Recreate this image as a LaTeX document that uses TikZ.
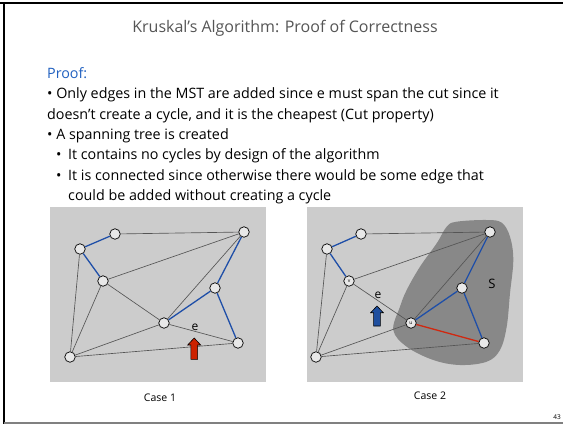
\documentclass[tikz,border=0pt]{standalone}
\usepackage{fontspec}
\setmainfont{Open Sans}
\definecolor{panelgray}{HTML}{CCCCCC}
\definecolor{blobgray}{HTML}{888888}
\definecolor{edgegray}{HTML}{555555}
\definecolor{treeblue}{HTML}{1F4FA8}
\definecolor{cutred}{HTML}{D02810}
\definecolor{arrowred}{HTML}{CC2200}
\definecolor{arrowblue}{HTML}{1F4F9F}
\definecolor{titlegray}{HTML}{555555}
\definecolor{proofblue}{HTML}{2060C0}
\definecolor{vertexfill}{HTML}{E8E8E8}
\begin{document}
\begin{tikzpicture}[x=1pt,y=-1pt,
  vertex/.style={circle,draw=black,line width=0.7pt,fill=vertexfill,minimum size=10.5pt,inner sep=0pt,font=\fontsize{5}{5}\selectfont},
  plain/.style={draw=edgegray,line width=0.65pt},
  tree/.style={draw=treeblue,line width=1.3pt},
  cheap/.style={draw=cutred,line width=1.3pt},
  bodytext/.style={anchor=base west,inner sep=0pt,font=\fontsize{14.3}{16}\selectfont},
  caselabel/.style={inner sep=0pt,font=\fontsize{10.5}{11}\selectfont},
  elabel/.style={inner sep=0pt,font=\fontsize{12}{13}\selectfont}]
\useasboundingbox (0,0) rectangle (563,424);
\fill[white] (0,0) rectangle (563,424);
% slide frame
\draw[black,line width=2pt] (0,2.7) -- (563,2.7);
\draw[black,line width=2.4pt] (4,2) -- (4,424);
\draw[gray,line width=1.2pt] (4,423) -- (563,423);

% title and text
\node[font=\fontsize{16}{18}\selectfont,text=titlegray,inner sep=0pt] (title) at (285,28) {Kruskal’s Algorithm: Proof of Correctness};
\node[bodytext,text=proofblue] (proof) at (47,78) {Proof:};
\node[bodytext] (t1) at (47,98) {• Only edges in the MST are added since e must span the cut since it};
\node[bodytext] (t2) at (47,119) {doesn’t create a cycle, and it is the cheapest (Cut property)};
\node[bodytext] (t3) at (47,139) {• A spanning tree is created};
\node[bodytext] (b4) at (56,159) {•};
\node[bodytext] (t4) at (68,159) {It contains no cycles by design of the algorithm};
\node[bodytext] (b5) at (56,180) {•};
\node[bodytext] (t5) at (68,180) {It is connected since otherwise there would be some edge that};
\node[bodytext] (t6) at (68,200) {could be added without creating a cycle};

% panels
\fill[panelgray] (50,207) rectangle (266,382);
\fill[panelgray] (307,207) rectangle (523,382);

% the set S
\fill[blobgray] plot[smooth cycle,tension=0.6] coordinates {
 (456.7,221.7) (486.7,220) (501.7,222.7) (510,236.7) (513.3,260) (510,293.3)
 (506.7,326.7) (500,350) (486.7,361.7) (460,365) (433.3,360) (406.7,346.7)
 (393.3,330) (400,306.7) (406.7,290) (420,266.7) (436.7,243.3) (446.7,226.7)};

% ---- Case 1 graph
\node[vertex] (l1) at (115,234) {};
\node[vertex] (l2) at (80,249) {};
\node[vertex] (l3) at (244,232) {};
\node[vertex] (l4) at (103,281) {};
\node[vertex] (l5) at (215,288) {};
\node[vertex] (l6) at (164,323) {};
\node[vertex] (l7) at (238,343) {};
\node[vertex] (l8) at (70,357) {};
\draw[plain] (l1) -- (l3);
\draw[plain] (l2) -- (l8);
\draw[plain] (l4) -- (l3);
\draw[plain] (l4) -- (l6);
\draw[plain] (l4) -- (l8);
\draw[plain] (l3) -- (l6);
\draw[plain] (l6) -- (l7);
\draw[plain] (l6) -- (l8);
\draw[plain] (l8) -- (l7);
\draw[tree] (l1) -- (l2);
\draw[tree] (l2) -- (l4);
\draw[tree] (l3) -- (l5);
\draw[tree] (l5) -- (l6);
\draw[tree] (l5) -- (l7);
\node[elabel] (e1) at (195,327) {e};
\draw[fill=arrowred,draw=black,line width=0.6pt]
  (190.8,359.3) -- (190.8,345) -- (187.7,345) -- (194.2,338) -- (200.7,345) -- (197.6,345) -- (197.6,359.3) -- cycle;

% ---- Case 2 graph
\node[vertex] (r1) at (361,234) {};
\node[vertex] (r2) at (327,249) {};
\node[vertex] (r3) at (490,232) {};
\node[vertex] (r4) at (349,281) {v};
\node[vertex] (r5) at (462,288) {};
\node[vertex] (r6) at (411,323) {u};
\node[vertex] (r7) at (484,343) {};
\node[vertex] (r8) at (316,357) {};
\draw[plain] (r1) -- (r3);
\draw[plain] (r2) -- (r8);
\draw[plain] (r4) -- (r3);
\draw[plain] (r4) -- (r6);
\draw[plain] (r4) -- (r8);
\draw[plain] (r3) -- (r6);
\draw[plain] (r6) -- (r8);
\draw[plain] (r8) -- (r7);
\draw[tree] (r1) -- (r2);
\draw[tree] (r2) -- (r4);
\draw[tree] (r3) -- (r5);
\draw[tree] (r5) -- (r6);
\draw[tree] (r5) -- (r7);
\draw[cheap] (r6) -- (r7);
\node[elabel] (e2) at (378,295) {e};
\node[font=\fontsize{13}{14}\selectfont,inner sep=0pt] (sname) at (492,284) {S};
\draw[fill=arrowblue,draw=black,line width=0.6pt]
  (373.6,326) -- (373.6,312.7) -- (370.7,312.7) -- (377,306) -- (383.3,312.7) -- (380.4,312.7) -- (380.4,326) -- cycle;

% captions
\node[caselabel] (c1) at (160,398) {Case 1};
\node[caselabel] (c2) at (430,396) {Case 2};
\node[font=\fontsize{6.5}{7}\selectfont,inner sep=0pt] (pnum) at (557,417) {43};
\end{tikzpicture}
\end{document}
